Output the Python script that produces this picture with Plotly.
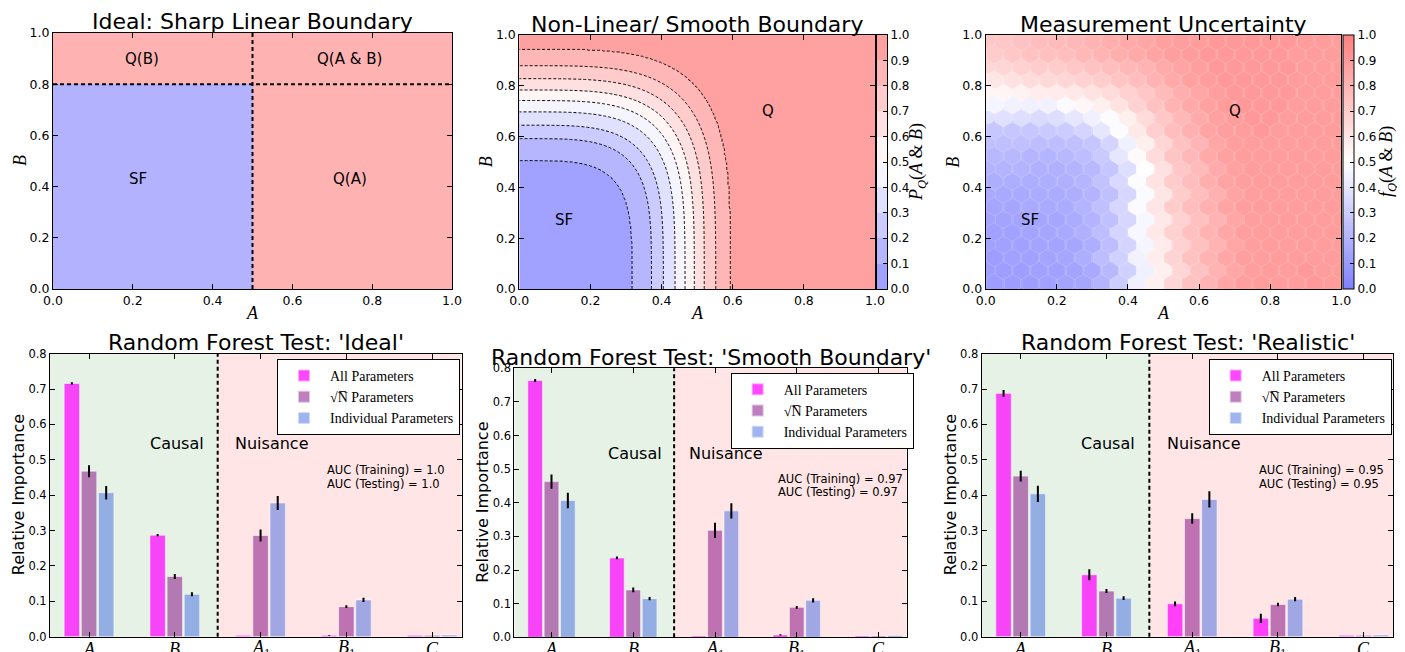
import numpy as np
import plotly.graph_objects as go

W, H = 1405, 652

# ---------------- data ----------------
# Panel 1: sharp linear boundary
SHARP_A_CUT = 0.5
SHARP_B_CUT = 0.8
SHARP_LABELS = ["Q(B)", "Q(A & B)", "SF", "Q(A)"]
SHARP_LABEL_A = [0.223, 0.744, 0.213, 0.744]
SHARP_LABEL_B = [0.90, 0.90, 0.43, 0.43]

# Panel 2: smooth boundary, contour levels and where they cut the axes
CONTOUR_LEVELS = [0.1, 0.2, 0.3, 0.4, 0.5, 0.6, 0.7, 0.8, 0.9]
CONTOUR_A_INTERCEPTS = [0.318, 0.372, 0.405, 0.438, 0.466, 0.492, 0.520, 0.552, 0.592]
CONTOUR_B_INTERCEPTS = [0.506, 0.591, 0.649, 0.697, 0.742, 0.784, 0.827, 0.878, 0.942]
CONTOUR_EXPONENT = 4
COLORBAR_TICKS = [0.0, 0.1, 0.2, 0.3, 0.4, 0.5, 0.6, 0.7, 0.8, 0.9, 1.0]

# Panel 3: hexbin of f_Q(A & B) (rows: B from bottom to top, cols: A from left to right)
HEX_A = [0.025, 0.075, 0.125, 0.175, 0.225, 0.275, 0.325, 0.375, 0.425, 0.475,
         0.525, 0.575, 0.625, 0.675, 0.725, 0.775, 0.825, 0.875, 0.925, 0.975]
HEX_B = [0.025, 0.075, 0.125, 0.175, 0.225, 0.275, 0.325, 0.375, 0.425, 0.475,
         0.525, 0.575, 0.625, 0.675, 0.725, 0.775, 0.825, 0.875, 0.925, 0.975]
HEX_F = [
    [0.12, 0.12, 0.12, 0.13, 0.14, 0.15, 0.20, 0.30, 0.44, 0.56, 0.66, 0.74, 0.80, 0.85, 0.88, 0.89, 0.89, 0.89, 0.90, 0.89],
    [0.12, 0.12, 0.13, 0.13, 0.14, 0.16, 0.22, 0.32, 0.44, 0.56, 0.66, 0.74, 0.80, 0.85, 0.88, 0.89, 0.89, 0.90, 0.89, 0.89],
    [0.12, 0.13, 0.13, 0.14, 0.15, 0.18, 0.24, 0.32, 0.45, 0.57, 0.67, 0.74, 0.80, 0.85, 0.88, 0.88, 0.89, 0.89, 0.89, 0.89],
    [0.13, 0.13, 0.14, 0.14, 0.15, 0.18, 0.24, 0.33, 0.46, 0.58, 0.68, 0.75, 0.80, 0.85, 0.88, 0.89, 0.89, 0.89, 0.89, 0.89],
    [0.13, 0.13, 0.14, 0.15, 0.16, 0.19, 0.24, 0.33, 0.47, 0.59, 0.68, 0.75, 0.80, 0.85, 0.88, 0.89, 0.89, 0.89, 0.89, 0.89],
    [0.14, 0.14, 0.15, 0.15, 0.17, 0.20, 0.25, 0.34, 0.47, 0.59, 0.68, 0.75, 0.80, 0.85, 0.88, 0.89, 0.89, 0.89, 0.89, 0.89],
    [0.15, 0.15, 0.16, 0.16, 0.17, 0.20, 0.25, 0.34, 0.48, 0.60, 0.70, 0.76, 0.81, 0.86, 0.88, 0.89, 0.89, 0.89, 0.89, 0.89],
    [0.16, 0.16, 0.17, 0.17, 0.18, 0.20, 0.25, 0.34, 0.48, 0.60, 0.70, 0.76, 0.81, 0.86, 0.88, 0.89, 0.89, 0.89, 0.89, 0.89],
    [0.18, 0.18, 0.18, 0.18, 0.19, 0.21, 0.26, 0.35, 0.49, 0.61, 0.70, 0.76, 0.82, 0.86, 0.88, 0.89, 0.89, 0.89, 0.89, 0.89],
    [0.20, 0.20, 0.19, 0.19, 0.20, 0.22, 0.27, 0.37, 0.50, 0.62, 0.72, 0.77, 0.83, 0.87, 0.89, 0.89, 0.89, 0.89, 0.89, 0.89],
    [0.22, 0.22, 0.21, 0.21, 0.22, 0.24, 0.29, 0.40, 0.52, 0.64, 0.73, 0.78, 0.84, 0.87, 0.89, 0.89, 0.89, 0.89, 0.89, 0.89],
    [0.25, 0.25, 0.24, 0.24, 0.25, 0.27, 0.33, 0.44, 0.56, 0.66, 0.74, 0.79, 0.85, 0.88, 0.89, 0.89, 0.89, 0.89, 0.89, 0.89],
    [0.28, 0.28, 0.28, 0.29, 0.30, 0.33, 0.40, 0.49, 0.59, 0.69, 0.76, 0.81, 0.86, 0.88, 0.89, 0.90, 0.89, 0.89, 0.89, 0.89],
    [0.38, 0.37, 0.36, 0.37, 0.40, 0.44, 0.49, 0.56, 0.64, 0.72, 0.78, 0.83, 0.87, 0.89, 0.90, 0.90, 0.89, 0.89, 0.89, 0.89],
    [0.46, 0.45, 0.44, 0.45, 0.48, 0.53, 0.56, 0.61, 0.68, 0.74, 0.80, 0.84, 0.87, 0.89, 0.90, 0.90, 0.90, 0.89, 0.89, 0.89],
    [0.54, 0.55, 0.57, 0.58, 0.59, 0.61, 0.64, 0.68, 0.72, 0.77, 0.82, 0.85, 0.88, 0.90, 0.90, 0.90, 0.90, 0.89, 0.89, 0.89],
    [0.60, 0.62, 0.64, 0.65, 0.66, 0.68, 0.70, 0.73, 0.76, 0.80, 0.84, 0.87, 0.89, 0.90, 0.90, 0.90, 0.90, 0.89, 0.89, 0.89],
    [0.66, 0.68, 0.70, 0.70, 0.72, 0.74, 0.76, 0.78, 0.80, 0.83, 0.86, 0.88, 0.90, 0.90, 0.90, 0.90, 0.90, 0.89, 0.89, 0.89],
    [0.70, 0.72, 0.74, 0.75, 0.76, 0.78, 0.80, 0.82, 0.84, 0.86, 0.88, 0.89, 0.90, 0.90, 0.90, 0.90, 0.90, 0.89, 0.89, 0.89],
    [0.72, 0.74, 0.76, 0.77, 0.78, 0.80, 0.82, 0.84, 0.85, 0.87, 0.88, 0.89, 0.90, 0.90, 0.90, 0.90, 0.90, 0.89, 0.89, 0.89],
]

# Bottom: random forest feature importances
CATEGORIES = ["A", "B", "A1", "B1", "C"]
TICK_LABELS = ["<i>A</i>", "<i>B</i>", "<i>A</i><sub>1</sub>", "<i>B</i><sub>1</sub>", "<i>C</i>"]
SERIES = ["All Parameters", "\u221aN\u0305 Parameters", "Individual Parameters"]

IDEAL_ALL = [0.716, 0.287, 0.004, 0.004, 0.004]
IDEAL_ALL_ERR = [0.003, 0.003, 0.0, 0.001, 0.0]
IDEAL_SQRT = [0.468, 0.170, 0.286, 0.085, 0.004]
IDEAL_SQRT_ERR = [0.017, 0.007, 0.017, 0.004, 0.0]
IDEAL_IND = [0.407, 0.120, 0.378, 0.104, 0.005]
IDEAL_IND_ERR = [0.019, 0.006, 0.020, 0.006, 0.0]

SMOOTH_ALL = [0.764, 0.236, 0.004, 0.007, 0.004]
SMOOTH_ALL_ERR = [0.0045, 0.004, 0.0, 0.002, 0.0]
SMOOTH_SQRT = [0.463, 0.141, 0.318, 0.089, 0.004]
SMOOTH_SQRT_ERR = [0.021, 0.007, 0.023, 0.004, 0.0]
SMOOTH_IND = [0.407, 0.115, 0.376, 0.110, 0.005]
SMOOTH_IND_ERR = [0.023, 0.0045, 0.023, 0.0065, 0.0]

REAL_ALL = [0.688, 0.175, 0.093, 0.052, 0.004]
REAL_ALL_ERR = [0.0095, 0.0156, 0.0066, 0.013, 0.0]
REAL_SQRT = [0.454, 0.129, 0.334, 0.091, 0.004]
REAL_SQRT_ERR = [0.015, 0.0057, 0.015, 0.005, 0.0]
REAL_IND = [0.404, 0.109, 0.388, 0.106, 0.005]
REAL_IND_ERR = [0.023, 0.005, 0.023, 0.006, 0.0]

AUC_TRAIN = ["1.0", "0.97", "0.95"]
AUC_TEST = ["1.0", "0.97", "0.95"]
TOP_TITLES = ["Ideal: Sharp Linear Boundary", "Non-Linear/ Smooth Boundary", "Measurement Uncertainty"]
BOTTOM_TITLES = ["Random Forest Test: 'Ideal'", "Random Forest Test: 'Smooth Boundary'",
                 "Random Forest Test: 'Realistic'"]

# ---------------- styling helpers ----------------
SANS = "DejaVu Sans"
SERIF = "Liberation Serif"
OFF = 8  # page body margin of the html page


def px_x(x):
    return (x - OFF) / W


def px_y(y):
    return 1 - (y - OFF) / H


def bwr_blend(t, alpha):
    if t < 0.5:
        c = (2 * t, 2 * t, 1.0)
    else:
        c = (1.0, 2 * (1 - t), 2 * (1 - t))
    r, g, b = [round(255 * (1 - alpha) + 255 * alpha * v) for v in c]
    return f"rgb({r},{g},{b})"


# pixel boxes (left, top, right, bottom) in screenshot pixels
BOX = {
    1: (53, 33, 452, 289),
    2: (519.3, 35, 875, 289),
    3: (985.7, 35, 1341.3, 289),
    4: (50, 353.7, 461.7, 636.7),
    5: (514.3, 368.3, 906.7, 637.3),
    6: (981.7, 353.7, 1393.3, 636.7),
    7: (877, 35, 887, 289),
}
XR = [-0.455, 4.345]

fig = go.Figure()

# ---- panel 1 ----
blue1 = bwr_blend(0.0, 0.3)
red1 = bwr_blend(1.0, 0.3)
fig.add_trace(go.Heatmap(
    x=[0, SHARP_A_CUT, 1], y=[0, SHARP_B_CUT, 1], z=[[0, 1], [1, 1]],
    colorscale=[[0, blue1], [1, red1]], zmin=0, zmax=1, showscale=False,
    hoverinfo="skip", xaxis="x", yaxis="y"))

# ---- panel 2 ----
g = np.linspace(0, 1, 301)
AA, BB = np.meshgrid(g, g)
ratio = float(np.mean(np.array(CONTOUR_B_INTERCEPTS) / np.array(CONTOUR_A_INTERCEPTS)))
rr = (AA ** CONTOUR_EXPONENT + (BB / ratio) ** CONTOUR_EXPONENT) ** (1.0 / CONTOUR_EXPONENT)
ZZ = np.interp(rr, [0.0] + CONTOUR_A_INTERCEPTS + [3.0], [0.001] + CONTOUR_LEVELS + [0.999])
nb = len(CONTOUR_LEVELS) + 1
band_cols = [bwr_blend(k / (nb - 1), 0.37) for k in range(nb)]
contour_scale = [[k / (nb - 1), band_cols[k]] for k in range(nb)]
fig.add_trace(go.Contour(
    x=g, y=g, z=ZZ, xaxis="x2", yaxis="y2",
    contours=dict(start=CONTOUR_LEVELS[0], end=CONTOUR_LEVELS[-1], size=0.1, coloring="fill"),
    colorscale=contour_scale, line=dict(color="black", dash="3px,2px", width=1),
    hoverinfo="skip", showscale=False))

# discrete colour bar for panel 2 (drawn as a tiny heatmap)
bar_edges = COLORBAR_TICKS
bar_mid = [[(bar_edges[k] + bar_edges[k + 1]) / 2] for k in range(nb)]
step_scale = []
for k in range(nb):
    step_scale.append([bar_edges[k], band_cols[k]])
    step_scale.append([bar_edges[k + 1], band_cols[k]])
fig.add_trace(go.Heatmap(x=[0, 1], y=bar_edges, z=bar_mid, colorscale=step_scale, zmin=0, zmax=1,
                         showscale=False, hoverinfo="skip", xaxis="x7", yaxis="y7"))

# ---- panel 3 ----
hex_scale = [[0, bwr_blend(0, 0.5)], [0.5, bwr_blend(0.5, 0.5)], [1, bwr_blend(1, 0.5)]]
fig.add_trace(go.Heatmap(x=HEX_A, y=HEX_B, z=HEX_F, colorscale=hex_scale, zmin=0, zmax=1,
                         showscale=False, hoverinfo="skip", xaxis="x3", yaxis="y3"))
hx, hy, hc = [], [], []
for j, b in enumerate(HEX_B):
    for i, a in enumerate(HEX_A):
        hx.append(a + (0.025 if j % 2 else 0.0))
        hy.append(b)
        hc.append(HEX_F[j][i])
fig.add_trace(go.Scatter(
    x=hx, y=hy, mode="markers", xaxis="x3", yaxis="y3", hoverinfo="skip", showlegend=False,
    marker=dict(symbol="hexagon", size=19, color=hc, colorscale=hex_scale, cmin=0, cmax=1,
                line=dict(color="rgba(255,255,255,0.3)", width=0.6),
                showscale=True,
                colorbar=dict(x=px_x(1343.3), xanchor="left", y=px_y(289), yanchor="bottom",
                              len=254 / H, lenmode="fraction", thickness=11, xpad=0, ypad=0,
                              outlinecolor="black", outlinewidth=1, ticks="inside", ticklen=4,
                              tickcolor="black", tickvals=COLORBAR_TICKS,
                              ticktext=[f"{v:.1f}" for v in COLORBAR_TICKS],
                              tickfont=dict(family=SANS, size=12, color="black"))),
))

# ---- bottom bar panels ----
BAR_COLORS = ["rgba(255,0,255,0.72)", "rgba(128,0,128,0.5)", "rgba(65,105,225,0.5)"]
OFFSETS = [-0.2, 0.0, 0.2]
panels = [
    (IDEAL_ALL, IDEAL_ALL_ERR, IDEAL_SQRT, IDEAL_SQRT_ERR, IDEAL_IND, IDEAL_IND_ERR),
    (SMOOTH_ALL, SMOOTH_ALL_ERR, SMOOTH_SQRT, SMOOTH_SQRT_ERR, SMOOTH_IND, SMOOTH_IND_ERR),
    (REAL_ALL, REAL_ALL_ERR, REAL_SQRT, REAL_SQRT_ERR, REAL_IND, REAL_IND_ERR),
]
for p, vals in enumerate(panels):
    ax = 4 + p
    legname = "legend" if p == 0 else f"legend{p + 1}"
    for s in range(3):
        y = vals[2 * s]
        e = vals[2 * s + 1]
        fig.add_trace(go.Bar(
            x=[i + OFFSETS[s] for i in range(len(CATEGORIES))], y=y, width=0.18,
            name=SERIES[s], legend=legname, xaxis=f"x{ax}", yaxis=f"y{ax}",
            marker=dict(color=BAR_COLORS[s], line=dict(color="rgba(255,255,255,0.55)", width=1)),
            error_y=dict(type="data", array=e, color="black", thickness=2, width=0),
            hoverinfo="skip"))

# ---------------- layout ----------------
axis_common = dict(showline=True, linecolor="black", linewidth=1, mirror="ticks",
                   ticks="inside", ticklen=5, tickcolor="black", showgrid=False,
                   zeroline=False, automargin=False,
                   tickfont=dict(family=SANS, size=12.5, color="black"))
layout = dict(width=W, height=H, margin=dict(l=0, r=0, t=0, b=0),
              plot_bgcolor="rgba(0,0,0,0)", paper_bgcolor="white", template="none",
              barmode="overlay", showlegend=True)

for k in range(1, 8):
    l, t, r, b = BOX[k]
    xa = dict(axis_common, domain=[px_x(l), px_x(r)], anchor=f"y{k}" if k > 1 else "y")
    ya = dict(axis_common, domain=[px_y(b), px_y(t)], anchor=f"x{k}" if k > 1 else "x")
    if k <= 3:
        xa.update(range=[0, 1], tickvals=[0, 0.2, 0.4, 0.6, 0.8, 1.0],
                  ticktext=["0.0", "0.2", "0.4", "0.6", "0.8", "1.0"])
        ya.update(range=[0, 1], tickvals=[0, 0.2, 0.4, 0.6, 0.8, 1.0],
                  ticktext=["0.0", "0.2", "0.4", "0.6", "0.8", "1.0"])
    elif k <= 6:
        xa.update(range=XR, tickvals=list(range(len(CATEGORIES))), showticklabels=False)
        ya.update(range=[0, 0.8], tickvals=[i / 10 for i in range(9)],
                  ticktext=[f"{i/10:.1f}" for i in range(9)],
                  tickfont=dict(family=SANS, size=11.5, color="black"))
    else:
        xa.update(range=[0, 1], mirror=True, ticks="", showticklabels=False)
        ya.update(range=[0, 1], side="right", mirror=True, ticks="inside", ticklen=4,
                  tickvals=COLORBAR_TICKS, ticktext=[f"{v:.1f}" for v in COLORBAR_TICKS],
                  tickfont=dict(family=SANS, size=12, color="black"))
    layout["xaxis" if k == 1 else f"xaxis{k}"] = xa
    layout["yaxis" if k == 1 else f"yaxis{k}"] = ya

# legends
leg_common = dict(bgcolor="white", bordercolor="black", borderwidth=1,
                  font=dict(family=SERIF, size=14, color="black"),
                  xanchor="left", yanchor="top", traceorder="normal",
                  itemsizing="constant", tracegroupgap=0, itemwidth=42)
layout["legend"] = dict(leg_common, x=px_x(277), y=px_y(359))
layout["legend2"] = dict(leg_common, x=px_x(730.7), y=px_y(372.7))
layout["legend3"] = dict(leg_common, x=px_x(1208.7), y=px_y(359))

shapes = []
annotations = []

# panel 1 dashed boundaries
shapes.append(dict(type="line", xref="x", yref="y", x0=SHARP_A_CUT, x1=SHARP_A_CUT, y0=0, y1=1,
                   line=dict(color="black", width=2, dash="4px,3px")))
shapes.append(dict(type="line", xref="x", yref="y", x0=0, x1=1, y0=SHARP_B_CUT, y1=SHARP_B_CUT,
                   line=dict(color="black", width=2, dash="4px,3px")))
for lab, a, b in zip(SHARP_LABELS, SHARP_LABEL_A, SHARP_LABEL_B):
    annotations.append(dict(x=a, y=b, xref="x", yref="y", text=lab, showarrow=False,
                            font=dict(family=SANS, size=15, color="black")))
for axn in ("2", "3"):
    annotations.append(dict(x=0.125, y=0.27, xref=f"x{axn}", yref=f"y{axn}", text="SF", showarrow=False,
                            font=dict(family=SANS, size=15, color="black")))
    annotations.append(dict(x=0.70, y=0.70, xref=f"x{axn}", yref=f"y{axn}", text="Q", showarrow=False,
                            font=dict(family=SANS, size=15, color="black")))

# bottom backgrounds / divider / texts
for p in range(3):
    ax = 4 + p
    shapes.append(dict(type="rect", xref=f"x{ax}", yref=f"y{ax} domain", x0=XR[0], x1=1.5, y0=0, y1=1,
                       fillcolor="rgba(0,128,0,0.1)", line=dict(width=0), layer="below"))
    shapes.append(dict(type="rect", xref=f"x{ax}", yref=f"y{ax} domain", x0=1.5, x1=XR[1], y0=0, y1=1,
                       fillcolor="rgba(255,0,0,0.1)", line=dict(width=0), layer="below"))
    shapes.append(dict(type="line", xref=f"x{ax}", yref=f"y{ax} domain", x0=1.5, x1=1.5, y0=0, y1=1,
                       line=dict(color="black", width=2, dash="4px,3px")))
    annotations.append(dict(x=1.02, y=0.547, xref=f"x{ax}", yref=f"y{ax}", text="Causal",
                            showarrow=False, font=dict(family=SANS, size=16, color="black")))
    annotations.append(dict(x=2.13, y=0.547, xref=f"x{ax}", yref=f"y{ax}", text="Nuisance",
                            showarrow=False, font=dict(family=SANS, size=16, color="black")))
    annotations.append(dict(x=2.75, y=0.471, xref=f"x{ax}", yref=f"y{ax}", xanchor="left",
                            text=f"AUC (Training) = {AUC_TRAIN[p]}",
                            showarrow=False, font=dict(family=SANS, size=11.5, color="black")))
    annotations.append(dict(x=2.75, y=0.433, xref=f"x{ax}", yref=f"y{ax}", xanchor="left",
                            text=f"AUC (Testing) = {AUC_TEST[p]}",
                            showarrow=False, font=dict(family=SANS, size=11.5, color="black")))
    # category tick labels (cut by the figure's bottom edge as in the original)
    for i, lab in enumerate(TICK_LABELS):
        annotations.append(dict(x=i, y=px_y(BOX[ax][3] + 12), xref=f"x{ax}", yref="paper",
                                text=lab, showarrow=False, xanchor="center", yanchor="middle",
                                font=dict(family=SERIF, size=18, color="black")))


def paper_text(xp, yp, txt, size, family=SANS, angle=0):
    annotations.append(dict(x=px_x(xp), y=px_y(yp), xref="paper", yref="paper", text=txt,
                            showarrow=False, xanchor="center", yanchor="middle", textangle=angle,
                            font=dict(family=family, size=size, color="black")))


# titles
for txt, k, yc in zip(TOP_TITLES, (1, 2, 3), (21.7, 24.5, 24.5)):
    bx = BOX[k]
    paper_text((bx[0] + bx[2]) / 2, yc, txt, 22)
for txt, k, yc in zip(BOTTOM_TITLES, (4, 5, 6), (342.7, 357.7, 342.7)):
    bx = BOX[k]
    paper_text((bx[0] + bx[2]) / 2, yc, txt, 22)

# axis titles
for k in (1, 2, 3):
    bx = BOX[k]
    paper_text((bx[0] + bx[2]) / 2, 313, "<i>A</i>", 18, SERIF)
    paper_text(bx[0] - 33, (bx[1] + bx[3]) / 2, "<i>B</i>", 18, SERIF, -90)
for xc, k in ((18, 4), (483, 5), (950, 6)):
    bx = BOX[k]
    paper_text(xc, (bx[1] + bx[3]) / 2, "Relative Importance", 16, SANS, -90)
paper_text(918, 162, "<i>P</i><sub><i>Q</i></sub>(<i>A</i> & <i>B</i>)", 18, SERIF, -90)
paper_text(1388, 162, "<i>f</i><sub><i>Q</i></sub>(<i>A</i> & <i>B</i>)", 18, SERIF, -90)

layout["shapes"] = shapes
layout["annotations"] = annotations
fig.update_layout(**layout)
fig.write_html("out.html")
